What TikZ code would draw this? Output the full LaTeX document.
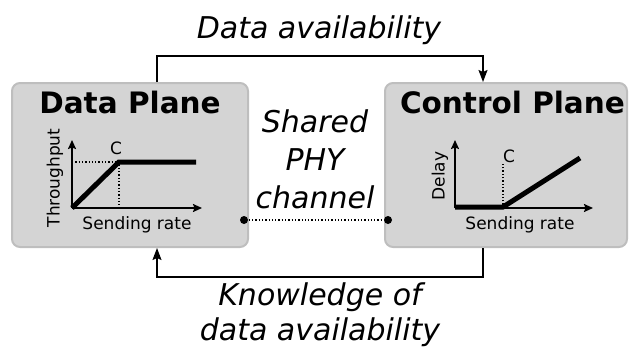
\documentclass[tikz,border=0pt]{standalone}
\usepackage{fontspec}
\setmainfont{DejaVu Sans}
\usetikzlibrary{arrows.meta, positioning}

\definecolor{planefill}{RGB}{212,212,212}
\definecolor{planeedge}{RGB}{190,190,190}

\begin{document}
\begin{tikzpicture}[x=1pt, y=-1pt, >={Stealth[length=12pt,width=9pt,inset=2pt]}, line width=1.4pt,
    plane/.style={draw=planeedge, line width=2pt, fill=planefill, rounded corners=8pt, inner sep=0pt},
    title/.style={font=\fontsize{29.5}{32}\selectfont\bfseries, anchor=base},
    note/.style={font=\fontsize{30}{35}\selectfont\itshape, align=center, anchor=base},
    axis/.style={line width=1.8pt, -{Stealth[length=9pt,width=8pt,inset=1.5pt]}},
    curve/.style={line width=5pt},
    guide/.style={dotted, line width=1.3pt},
    small/.style={font=\fontsize{17}{17}\selectfont},
    dot/.style={circle, fill, inner sep=0pt, minimum size=8pt}]

    \useasboundingbox (0,0) rectangle (629,348);

    % the two planes
    \node[plane, minimum width=236pt, minimum height=164pt] (dp) at (130,165) {};
    \node[plane, minimum width=242pt, minimum height=164pt] (cp) at (506,165) {};
    \node[title] (dpt) at (130,113) {Data Plane};
    \node[title, anchor=base west] (cpt) at (396,113) {Control Plane};

    % throughput vs sending rate
    \draw[axis] (72,208) -- (72,140);
    \draw[axis] (72,208) -- (202,208);
    \draw[guide] (72,162) -- (119,162) -- (119,208);
    \draw[curve] (72,208) -- (119,162) -- (196,162);
    \node[small] (dpc) at (116,148) {C};
    \node[small, rotate=90] (dpy) at (55,178) {Throughput};
    \node[small, anchor=base] (dpx) at (137,229) {Sending rate};

    % delay vs sending rate
    \draw[axis] (455,208) -- (455,140);
    \draw[axis] (455,208) -- (593,208);
    \draw[guide] (503,208) -- (503,162);
    \draw[curve] (455,207) -- (503,207) -- (580,158);
    \node[small] (cpc) at (509,156) {C};
    \node[small, rotate=90] (cpy) at (440,176) {Delay};
    \node[small, anchor=base] (cpx) at (520,229) {Sending rate};

    % shared channel
    \node[dot] (l) at (244,220) {};
    \node[dot] (r) at (388,220) {};
    \draw[guide] (l) -- (r);
    \node[note, font=\fontsize{30}{38}\selectfont\itshape] (ch) at (315,208) {Shared\\PHY\\channel};

    % feedback loop
    \draw[->] ([xshift=27pt]dp.north) -- ++(0,-26) -| ([xshift=-23pt]cp.north);
    \draw[->] ([xshift=-23pt]cp.south) -- ++(0,29) -| ([xshift=27pt]dp.south);
    \node[note] (up) at (319,38) {Data availability};
    \node[note] (down) at (320,340) {Knowledge of\\data availability};

\end{tikzpicture}
\end{document}
